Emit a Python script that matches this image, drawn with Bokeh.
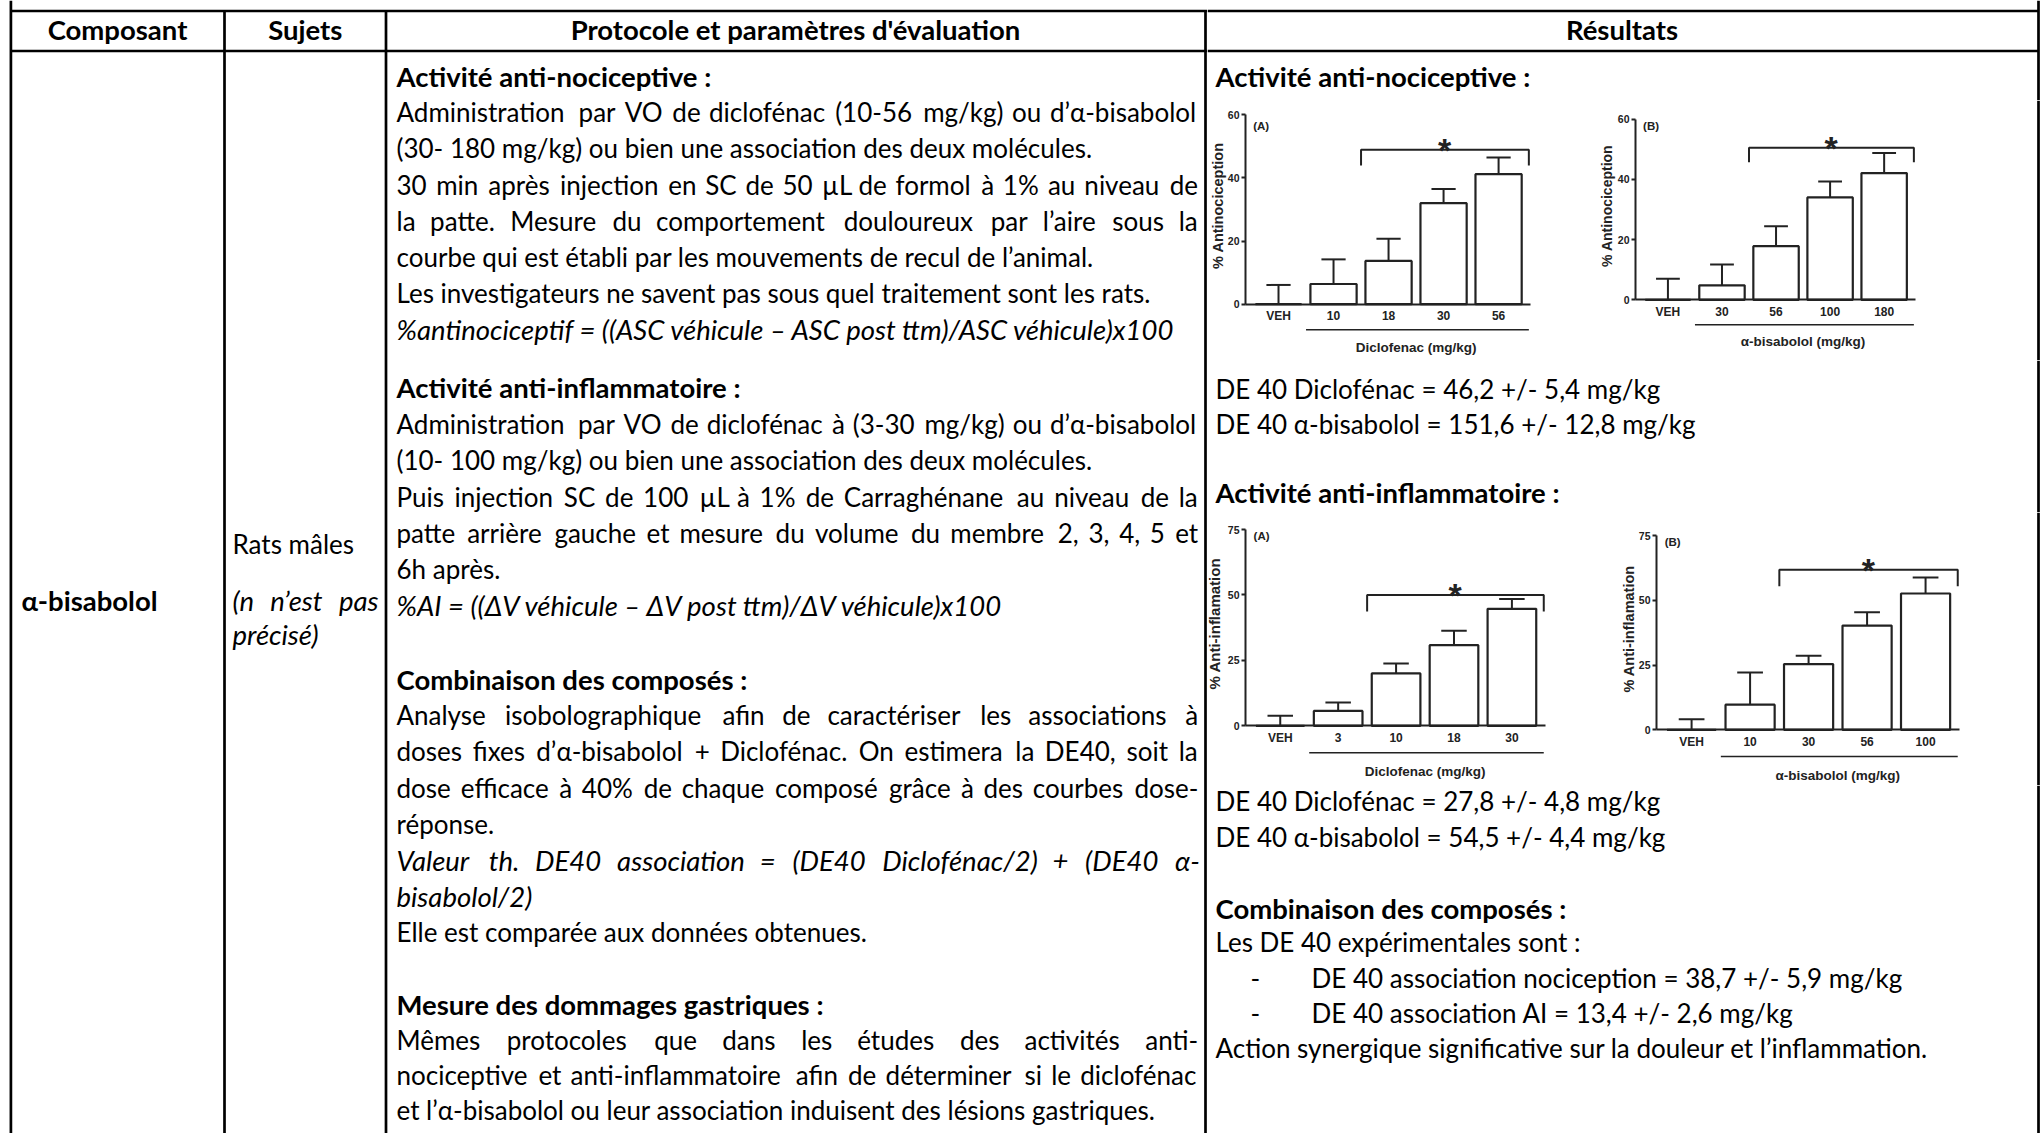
import math
import unicodedata
from bokeh.plotting import figure
from bokeh.layouts import row, column
from bokeh.models import Range1d, FixedTicker, ColumnDataSource
from bokeh.core.properties import value
from bokeh.embed import file_html
from bokeh.resources import INLINE

# ------------------------------------------------------------------ table text
HEADERS = ["Composant", "Sujets", "Protocole et paramètres d'évaluation", "Résultats"]
COMPOSANT = "α-bisabolol"
SUJETS = [("normal", "Rats mâles", 0), ("italic", "(n n’est pas", 1), ("italic", "précisé)", 0)]

# (style, text, justified)
PROTOCOL_BLOCKS = [
    [("bold", "Activité anti-nociceptive :", 0),
     ("normal", "Administration par VO de diclofénac (10-56 mg/kg) ou d’α-bisabolol", 1),
     ("normal", "(30- 180 mg/kg) ou bien une association des deux molécules.", 0),
     ("normal", "30 min après injection en SC de 50 µL de formol à 1% au niveau de", 1),
     ("normal", "la patte. Mesure du comportement douloureux par l’aire sous la", 1),
     ("normal", "courbe qui est établi par les mouvements de recul de l’animal.", 0),
     ("normal", "Les investigateurs ne savent pas sous quel traitement sont les rats.", 0),
     ("italic", "%antinociceptif = ((ASC véhicule – ASC post ttm)/ASC véhicule)x100", 0)],
    [("bold", "Activité anti-inflammatoire :", 0),
     ("normal", "Administration par VO de diclofénac à (3-30 mg/kg) ou d’α-bisabolol", 1),
     ("normal", "(10- 100 mg/kg) ou bien une association des deux molécules.", 0),
     ("normal", "Puis injection SC de 100 µL à 1% de Carraghénane au niveau de la", 1),
     ("normal", "patte arrière gauche et mesure du volume du membre 2, 3, 4, 5 et", 1),
     ("normal", "6h après.", 0),
     ("italic", "%AI = ((ΔV véhicule – ΔV post ttm)/ΔV véhicule)x100", 0)],
    [("bold", "Combinaison des composés :", 0),
     ("normal", "Analyse isobolographique afin de caractériser les associations à", 1),
     ("normal", "doses fixes d’α-bisabolol + Diclofénac. On estimera la DE40, soit la", 1),
     ("normal", "dose efficace à 40% de chaque composé grâce à des courbes dose-", 1),
     ("normal", "réponse.", 0),
     ("italic", "Valeur th. DE40 association = (DE40 Diclofénac/2) + (DE40 α-", 1),
     ("italic", "bisabolol/2)", 0),
     ("normal", "Elle est comparée aux données obtenues.", 0)],
    [("bold", "Mesure des dommages gastriques :", 0),
     ("normal", "Mêmes protocoles que dans les études des activités anti-", 1),
     ("normal", "nociceptive et anti-inflammatoire afin de déterminer si le diclofénac", 1),
     ("normal", "et l’α-bisabolol ou leur association induisent des lésions gastriques.", 0)],
]

RES_TITLE_NOCI = "Activité anti-nociceptive :"
RES_NOCI = ["DE 40 Diclofénac = 46,2 +/- 5,4 mg/kg",
            "DE 40 α-bisabolol = 151,6 +/- 12,8 mg/kg"]
RES_TITLE_INFL = "Activité anti-inflammatoire :"
RES_INFL = ["DE 40 Diclofénac = 27,8 +/- 4,8 mg/kg",
            "DE 40 α-bisabolol = 54,5 +/- 4,4 mg/kg"]
RES_TITLE_COMB = "Combinaison des composés :"
RES_COMB_INTRO = "Les DE 40 expérimentales sont :"
RES_COMB_ITEMS = ["DE 40 association nociception = 38,7 +/- 5,9 mg/kg",
                  "DE 40 association AI = 13,4 +/- 2,6 mg/kg"]
RES_CONCL = "Action synergique significative sur la douleur et l’inflammation."

# ------------------------------------------------------------------ chart data
NOCI_DICLO_DOSES = ["VEH", "10", "18", "30", "56"]
NOCI_DICLO_MEAN = [0.0, 6.4, 13.7, 32.0, 41.2]
NOCI_DICLO_SEM = [6.1, 7.8, 7.0, 4.5, 5.3]
NOCI_DICLO_SIG = [48.9, 43.9]

NOCI_BISA_DOSES = ["VEH", "30", "56", "100", "180"]
NOCI_BISA_MEAN = [0.0, 4.8, 17.8, 34.0, 42.1]
NOCI_BISA_SEM = [7.0, 6.9, 6.6, 5.3, 6.7]
NOCI_BISA_SIG = [50.5, 45.7]

INFL_DICLO_DOSES = ["VEH", "3", "10", "18", "30"]
INFL_DICLO_MEAN = [0.0, 5.7, 20.0, 30.8, 44.7]
INFL_DICLO_SEM = [3.8, 3.2, 3.8, 5.5, 3.7]
INFL_DICLO_SIG = [50.0, 43.7]

INFL_BISA_DOSES = ["VEH", "10", "30", "56", "100"]
INFL_BISA_MEAN = [0.0, 9.7, 25.4, 40.3, 52.7]
INFL_BISA_SEM = [4.1, 12.5, 3.2, 5.1, 6.2]
INFL_BISA_SIG = [61.9, 55.5]

NOCI_YTICKS = [0, 20, 40, 60]
INFL_YTICKS = [0, 25, 50, 75]
NOCI_YLABEL = "% Antinociception"
INFL_YLABEL = "% Anti-inflamation"
DICLO_GROUP = "Diclofenac (mg/kg)"
BISA_GROUP = "α-bisabolol (mg/kg)"

# ------------------------------------------------------------------ styles
TFONT = "Lato"
SIZES = {"normal": 26, "bold": 27.5, "italic": 27.5}
CFONT = "Liberation Sans"
CCOL = "#222222"
LW = 2.7
XMIN, XMAX = -0.6, 4.58   # extent of the category axis

# approximate Lato advance widths (em) used only to spread justified lines
_W = dict(zip("abcdefghijklmnopqrstuvwxyz",
              [.49, .55, .45, .55, .51, .32, .49, .55, .24, .24, .50, .24, .83, .55, .55,
               .55, .55, .37, .42, .35, .55, .50, .77, .49, .50, .44]))
_W.update(zip("ABCDEFGHIJKLMNOPQRSTUVWXYZ",
              [.68, .63, .66, .74, .55, .53, .71, .75, .28, .38, .66, .48, .89, .75, .78,
               .59, .78, .62, .52, .57, .72, .68, 1.0, .65, .62, .60]))
_W.update({d: .58 for d in "0123456789"})
_W.update({"'": .2, "’": .2, ".": .2, ",": .2, ":": .22, ";": .22, "-": .33, "(": .3,
           ")": .3, "/": .37, "%": .78, "+": .58, "=": .58, "–": .55, "µ": .56, "α": .56,
           "Δ": .68})
SPACE = .193
CAL = {"normal": 1.045, "italic": 0.96, "bold": 1.05}


def est_w(word, style, size):
    tot = 0.0
    for ch in word:
        base = unicodedata.normalize("NFD", ch)[0]
        tot += _W.get(ch, _W.get(base, .55))
    return tot * size * CAL[style]


def canvas(w, h):
    p = figure(width=w, height=h, x_range=Range1d(0, w), y_range=Range1d(h, 0),
               output_backend="svg", toolbar_location=None, min_border=0,
               x_axis_location=None, y_axis_location=None, outline_line_color=None)
    p.grid.visible = False
    return p


def seg(p, x0, y0, x1, y1, lw=LW):
    p.segment(x0=[x0], y0=[y0], x1=[x1], y1=[y1], line_color="black", line_width=lw)


def txt(p, x, y, s, style="normal", align="left"):
    p.text(x=[x], y=[y], text=[s], text_font=value(TFONT),
           text_font_size=f"{SIZES[style]}px", text_font_style=style, text_align=align,
           text_baseline="middle", text_color="black")


def jtxt(p, x0, x1, y, s, style="normal"):
    """justified line: words spread between x0 and x1"""
    size = SIZES[style]
    words = s.split(" ")
    ws = [est_w(w, style, size) for w in words]
    n = len(words)
    gap = (x1 - x0 - sum(ws)) / (n - 1)
    gap = max(gap, 0.6 * SPACE * size)
    xs, cur = [], x0
    for w in ws:
        xs.append(cur)
        cur += w + gap
    p.text(x=xs, y=[y] * n, text=words, text_font=value(TFONT), text_font_size=f"{size}px",
           text_font_style=style, text_align="left", text_baseline="middle",
           text_color="black")


def bar_panel(width, height, geo, cats, mean, sem, sig, yticks, ylabel, group,
              tag, tag_y, grp_y, ul_y, ylab_px, ylab_dx):
    # geo: pixel positions inside the panel of the axis ends / zero line / top tick
    ax_l, ax_r, zero_py, top_py = geo
    ymax = yticks[-1]
    sx = (ax_r - ax_l) / (XMAX - XMIN)
    sy = (zero_py - top_py) / ymax
    x0 = XMIN - ax_l / sx
    y1 = ymax + top_py / sy
    p = figure(width=width, height=height,
               x_range=Range1d(x0, x0 + width / sx), y_range=Range1d(y1 - height / sy, y1),
               output_backend="svg", toolbar_location=None, min_border=0,
               outline_line_color=None)
    p.grid.visible = False
    idx = list(range(len(cats)))
    top = [m + s for m, s in zip(mean, sem)]
    src = ColumnDataSource(dict(x=idx, mean=mean, top=top,
                                xl=[i - 0.22 for i in idx], xr=[i + 0.22 for i in idx]))
    p.segment(x0="x", y0="mean", x1="x", y1="top", source=src, line_color=CCOL, line_width=2)
    p.segment(x0="xl", y0="top", x1="xr", y1="top", source=src, line_color=CCOL, line_width=2)
    p.vbar(x="x", top="mean", bottom=0, width=0.84, source=src, fill_color="white",
           line_color=CCOL, line_width=2.2)
    # significance bracket
    p.line(x=[1.5, 1.5, 4.55, 4.55], y=[sig[1], sig[0], sig[0], sig[1]],
           line_color=CCOL, line_width=2)
    p.text(x=[3.02], y=[sig[0]], text=["*"], text_font=value(CFONT), text_font_size="34px",
           text_font_style="bold", text_align="center", text_baseline="middle",
           text_color=CCOL)
    p.text(x=[-0.46], y=[tag_y], text=[tag], text_font=value(CFONT), text_font_size="11.5px",
           text_font_style="bold", text_align="left", text_baseline="middle", text_color=CCOL)
    # dose group underline + label
    p.segment(x0=[0.5], y0=[ul_y], x1=[4.55], y1=[ul_y], line_color=CCOL, line_width=1.6)
    p.text(x=[2.5], y=[grp_y], text=[group], text_font=value(CFONT), text_font_size="13.5px",
           text_font_style="bold", text_align="center", text_baseline="middle", text_color=CCOL)
    # y-axis title, centred on the drawn axis (0..ymax)
    p.text(x=[XMIN - ylab_dx / sx], y=[ymax * 0.52], text=[ylabel], angle=math.pi / 2,
           text_font=value(CFONT), text_font_size=f"{ylab_px}px", text_font_style="bold",
           text_align="center", text_baseline="middle", text_color=CCOL)

    xa = p.xaxis[0]
    xa.fixed_location = 0
    xa.bounds = (XMIN, XMAX)
    xa.ticker = FixedTicker(ticks=idx)
    xa.major_label_overrides = {i: c for i, c in zip(idx, cats)}
    xa.major_tick_out = 0
    xa.major_tick_in = 0
    xa.minor_tick_out = 0
    xa.minor_tick_in = 0
    xa.major_label_standoff = 5
    xa.major_label_text_font = CFONT
    xa.major_label_text_font_style = "bold"
    xa.major_label_text_font_size = "12px"
    xa.major_label_text_color = CCOL
    xa.axis_line_color = CCOL
    xa.axis_line_width = 2

    ya = p.yaxis[0]
    ya.fixed_location = XMIN
    ya.bounds = (yticks[0], ymax)
    ya.ticker = FixedTicker(ticks=yticks)
    ya.minor_tick_out = 0
    ya.minor_tick_in = 0
    ya.major_tick_out = 4
    ya.major_tick_in = 0
    ya.major_tick_line_width = 2
    ya.major_tick_line_color = CCOL
    ya.major_label_standoff = 2
    ya.major_label_text_font = CFONT
    ya.major_label_text_font_style = "bold"
    ya.major_label_text_font_size = "10.5px"
    ya.major_label_text_color = CCOL
    ya.axis_line_color = CCOL
    ya.axis_line_width = 2
    return p


# ------------------------------------------------------------------ left part (3 columns)
WL, H = 1207, 1133
XL = 10.4  # outer left border
left = canvas(WL, H)
seg(left, XL, 0, XL, H)
seg(left, XL, 10.5, WL, 10.5)
seg(left, XL, 50.5, WL, 50.5)
for xd in (224, 385.5, 1205):
    seg(left, xd, 10.5, xd, H)
HY = 28.5
txt(left, 117, HY, HEADERS[0], "bold", "center")
txt(left, 304.75, HY, HEADERS[1], "bold", "center")
txt(left, 795, HY, HEADERS[2], "bold", "center")
txt(left, 21, 600, COMPOSANT, "bold")
for (st, s, j), yy in zip(SUJETS, (543, 600, 634)):
    if j:
        jtxt(left, 232, 377, yy, s, st)
    else:
        txt(left, 232, yy, s, st)

X0, X1 = 396, 1198
block_y = (75.5, 386.8, 678.5, 1004)
block_ls = (36.2, 36.4, 36.2, 35.3)
for blk, y0, ls in zip(PROTOCOL_BLOCKS, block_y, block_ls):
    for k, (st, s, j) in enumerate(blk):
        if j:
            jtxt(left, X0, X1, y0 + k * ls, s, st)
        else:
            txt(left, X0, y0 + k * ls, s, st)

# ------------------------------------------------------------------ right part (Résultats)
WR = 835
XB = 831  # right border (page x 2038)
SPW = 20  # width of the strip carrying the right border next to the charts


def right_canvas(h):
    p = canvas(WR, h)
    seg(p, XB, 0, XB, h)
    return p


def spacer(h):
    p = canvas(SPW, h)
    seg(p, SPW - 4, 0, SPW - 4, h)
    return p


r1 = right_canvas(100)
seg(r1, 0, 10.5, XB, 10.5)
seg(r1, 0, 50.5, XB, 50.5)
txt(r1, 414.5, HY, HEADERS[3], "bold", "center")
txt(r1, 8, 75.5, RES_TITLE_NOCI, "bold")

a1 = bar_panel(383, 260, (38, 323, 203.7, 14.3), NOCI_DICLO_DOSES, NOCI_DICLO_MEAN,
               NOCI_DICLO_SEM, NOCI_DICLO_SIG, NOCI_YTICKS, NOCI_YLABEL, DICLO_GROUP,
               "(A)", 56.6, -13.6, -8.1, 14.5, 28)
b1 = bar_panel(WR - 383 - SPW, 260, (45, 325, 199.3, 18.7), NOCI_BISA_DOSES, NOCI_BISA_MEAN,
               NOCI_BISA_SEM, NOCI_BISA_SIG, NOCI_YTICKS, NOCI_YLABEL, BISA_GROUP,
               "(B)", 57.9, -13.75, -8.3, 14, 29)
row2 = row(a1, b1, spacer(260))

r3 = right_canvas(152)
txt(r3, 8, 28, RES_NOCI[0])
txt(r3, 8, 63, RES_NOCI[1])
txt(r3, 8, 132, RES_TITLE_INFL, "bold")

a2 = bar_panel(393, 273, (38, 338, 213.3, 17), INFL_DICLO_DOSES, INFL_DICLO_MEAN,
               INFL_DICLO_SEM, INFL_DICLO_SIG, INFL_YTICKS, INFL_YLABEL, DICLO_GROUP,
               "(A)", 72.7, -17.35, -10.3, 15, 31)
b2 = bar_panel(WR - 393 - SPW, 273, (56, 359, 217.3, 23.3), INFL_BISA_DOSES, INFL_BISA_MEAN,
               INFL_BISA_SEM, INFL_BISA_SIG, INFL_YTICKS, INFL_YLABEL, BISA_GROUP,
               "(B)", 72.5, -17.7, -10.3, 14.5, 28)
row4 = row(a2, b2, spacer(273))

r5 = right_canvas(348)
txt(r5, 8, 15, RES_INFL[0])
txt(r5, 8, 51, RES_INFL[1])
txt(r5, 8, 123, RES_TITLE_COMB, "bold")
txt(r5, 8, 156.5, RES_COMB_INTRO)
for k, s in enumerate(RES_COMB_ITEMS):
    txt(r5, 43, 192 + 35 * k, "-")
    txt(r5, 104, 192 + 35 * k, s)
txt(r5, 8, 262, RES_CONCL)

right = column(r1, row2, r3, row4, r5)
page = row(left, right)

open("out.html", "w").write(file_html(page, INLINE))
